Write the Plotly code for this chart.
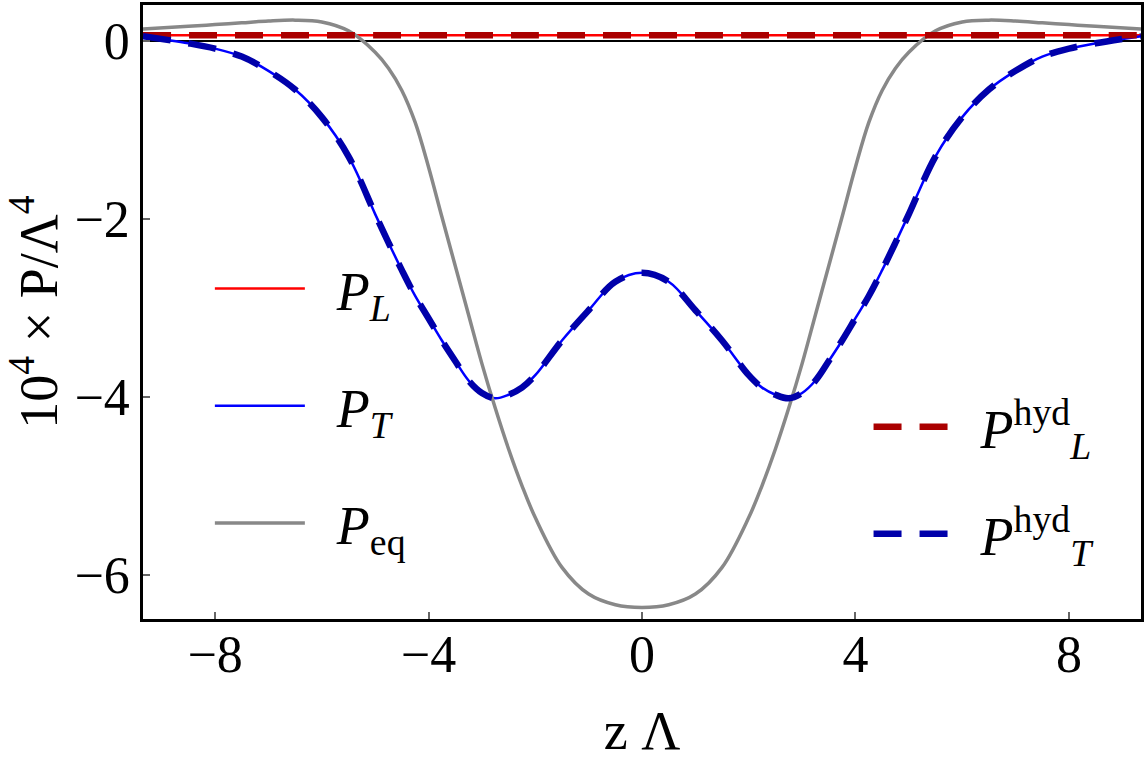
import plotly.graph_objects as go

z = [-9.35, -8.5, -8.0, -7.5, -7.0, -6.5, -6.0, -5.5, -5.0, -4.75, -4.5, -4.25, -4.0, -3.75, -3.5, -3.25,
     -3.0, -2.75, -2.5, -2.25, -2.0, -1.5, -1.0, -0.5, 0.0,
     0.5, 1.0, 1.5, 2.0, 2.25, 2.5, 2.75, 3.0, 3.25, 3.5, 3.75, 4.0, 4.25, 4.5, 4.75,
     5.0, 5.5, 6.0, 6.5, 7.0, 7.5, 8.0, 8.5, 9.35]

P_L = [0.06] * 49  # flat longitudinal pressure
P_T = [0.05, -0.03, -0.09, -0.18, -0.34, -0.55, -0.86, -1.30, -1.95, -2.27, -2.58, -2.87, -3.12, -3.37, -3.60, -3.82,
       -3.96, -4.02, -3.98, -3.90, -3.76, -3.37, -3.03, -2.71, -2.61,
       -2.71, -3.03, -3.37, -3.76, -3.90, -3.98, -4.02, -3.96, -3.82, -3.60, -3.37, -3.12, -2.87, -2.58, -2.27,
       -1.95, -1.30, -0.86, -0.55, -0.34, -0.18, -0.09, -0.03, 0.05]
P_eq = [0.13, 0.16, 0.18, 0.20, 0.22, 0.23, 0.21, 0.11, -0.13, -0.31, -0.56, -0.92, -1.42, -1.98, -2.53, -3.08,
        -3.63, -4.13, -4.59, -5.00, -5.36, -5.92, -6.22, -6.34, -6.37,
        -6.34, -6.22, -5.92, -5.36, -5.00, -4.59, -4.13, -3.63, -3.08, -2.53, -1.98, -1.42, -0.92, -0.56, -0.31,
        -0.13, 0.11, 0.21, 0.23, 0.22, 0.20, 0.18, 0.16, 0.13]
P_L_hyd = [0.06] * 49
P_T_hyd = list(P_T)

x_ticks = [-8, -4, 0, 4, 8]
y_ticks = [-6, -4, -2, 0]

FONT = "Liberation Serif, Times New Roman, serif"
SP = "\u2002"

fig = go.Figure()
fig.add_trace(go.Scatter(x=z, y=P_L, mode="lines", line=dict(color="#ff0000", width=2.5, shape="spline"),
                         name=SP + "<i>P</i><sub><i>L</i></sub>", legend="legend", legendgroup="a"))
fig.add_trace(go.Scatter(x=z, y=P_T, mode="lines", line=dict(color="#0000ff", width=2.5, shape="spline"),
                         name=SP + "<i>P</i><sub><i>T</i></sub>", legend="legend", legendgroup="b"))
fig.add_trace(go.Scatter(x=z, y=P_eq, mode="lines", line=dict(color="#888888", width=3.5, shape="spline"),
                         name=SP + "<i>P</i><sub>eq</sub>", legend="legend", legendgroup="c"))
fig.add_trace(go.Scatter(x=z, y=P_L_hyd, mode="lines",
                         line=dict(color="#aa0000", width=6.5, dash="28px,18px", shape="spline"),
                         name=SP + "<i>P</i><sup>hyd</sup><sub><i>L</i></sub>", legend="legend2", legendgroup="d"))
fig.add_trace(go.Scatter(x=z, y=P_T_hyd, mode="lines",
                         line=dict(color="#0000aa", width=6.5, dash="28px,18px", shape="spline"),
                         name=SP + "<i>P</i><sup>hyd</sup><sub><i>T</i></sub>", legend="legend2", legendgroup="e"))

axis_common = dict(showline=True, mirror=True, linecolor="black", linewidth=2.5,
                   ticks="inside", ticklen=7, tickwidth=2, tickcolor="#666666",
                   showgrid=False, tickfont=dict(family=FONT, size=52, color="black"))

fig.update_xaxes(range=[-9.35, 9.35], tickvals=x_ticks, ticktext=["\u22128", "\u22124", "0", "4", "8"],
                 zeroline=False, ticklabelstandoff=-12,
                 title=dict(text="z \u039b", font=dict(family=FONT, size=54, color="black"), standoff=30),
                 **axis_common)
fig.update_yaxes(range=[-6.5, 0.4], tickvals=y_ticks, ticktext=["\u22126", "\u22124", "\u22122", "0"],
                 zeroline=True, zerolinecolor="black", zerolinewidth=1.5,
                 title=dict(text="10<sup>4</sup> \u00d7 P/\u039b<sup>4</sup>", font=dict(family=FONT, size=54, color="black"),
                            standoff=14),
                 **axis_common)

legend_common = dict(bgcolor="rgba(0,0,0,0)", borderwidth=0, traceorder="grouped",
                     font=dict(family=FONT, size=54, color="black"),
                     xanchor="left", yanchor="top")
fig.update_layout(
    width=1146, height=765,
    margin=dict(l=143, r=3, t=2, b=146),
    paper_bgcolor="white", plot_bgcolor="white",
    legend=dict(x=0.067, y=0.606, tracegroupgap=44, itemwidth=90, **legend_common),
    legend2=dict(x=0.727, y=0.381, tracegroupgap=34, itemwidth=75, **legend_common),
    showlegend=True,
)

fig.write_html("out.html")
